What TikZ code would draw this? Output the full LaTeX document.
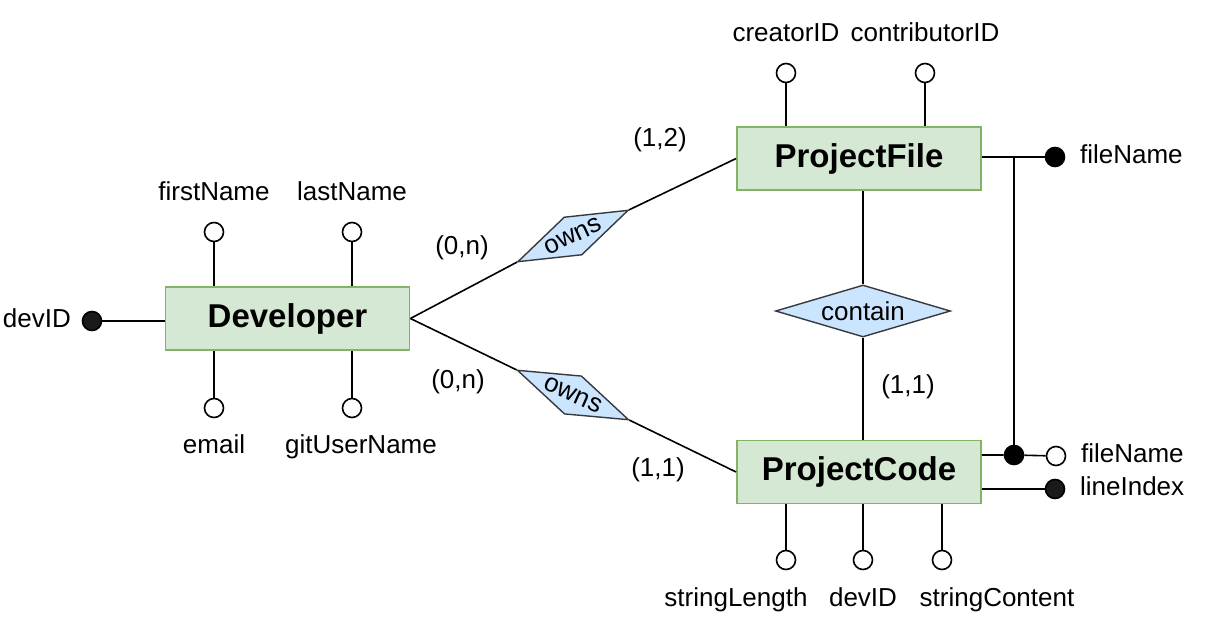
\documentclass[tikz,border=0pt]{standalone}
\usepackage{fontspec}
\setmainfont{Liberation Sans}
\usetikzlibrary{positioning,shapes.geometric}
\definecolor{entFill}{HTML}{D5E8D4}
\definecolor{entLine}{HTML}{82B366}
\definecolor{relFill}{HTML}{CCE5FF}
\definecolor{relLine}{HTML}{36393D}
\definecolor{keyInk}{HTML}{1A1A1A}

\begin{document}
\begin{tikzpicture}[x=1pt, y=1pt, line width=1.6pt,
      font=\fontsize{26}{31}\selectfont,
      ent/.style={draw=entLine, fill=entFill, line width=1.8pt, minimum width=244pt, minimum height=63pt,
                  font=\fontsize{33}{40}\selectfont\bfseries},
      rel/.style={diamond, draw=relLine, fill=relFill, line width=1.4pt, inner sep=0pt, aspect=2.9},
      attr/.style={circle, draw, fill=white, minimum size=19pt, inner sep=0pt},
      pkey/.style={attr, fill=keyInk},
      txt/.style={inner sep=0pt, text height=18pt, text depth=5pt}]
    \useasboundingbox (0,0) rectangle (1224,-637);
    % ---- entities and relations
    \node[ent] (dev) at (287.5,-318.5) {Developer};
    \node[ent] (pfile) at (859,-158.5) {ProjectFile};
    \node[ent] (pcode) at (859,-472) {ProjectCode};
    \node[rel, minimum width=122pt, minimum height=42pt, rotate=25] (ownsA) at (573,-236) {owns};
    \node[rel, minimum width=122pt, minimum height=42pt, rotate=-24] (ownsB) at (573,-395) {owns};
    \node[rel, minimum width=175pt, minimum height=52pt, aspect=3.4] (contain) at (863,-311) {contain};
    \draw (dev.east) -- (ownsA.west);
    \draw (ownsA.east) -- (pfile.west);
    \draw (dev.east) -- (ownsB.west);
    \draw (ownsB.east) -- (pcode.west);
    \draw (contain.north) -- (contain.north |- pfile.south);
    \draw (contain.south) -- (contain.south |- pcode.north);
    % ---- cardinalities
    \node (cardA) at (660,-140) {(1,2)};
    \node (cardB) at (462,-248) {(0,n)};
    \node (cardC) at (458,-382) {(0,n)};
    \node (cardD) at (658,-470) {(1,1)};
    \node (cardE) at (908,-387) {(1,1)};
    % ---- Developer attributes
    \foreach \n/\x/\t in {fn/214/firstName, ln/352/lastName} {
      \node[attr] (\n) at (\x,-232) {};
      \node[txt, above=15pt of \n] (\n-lbl) {\t};
      \draw (\n) -- (\n |- dev.north);
    }
    \foreach \n/\x/\dx/\t in {em/214/0/email, gu/352/9/gitUserName} {
      \node[attr] (\n) at (\x,-408) {};
      \node[txt, below=16pt of \n, xshift=\dx pt] (\n-lbl) {\t};
      \draw (\n) -- (\n |- dev.south);
    }
    \node[pkey] (did) at (92,-321) {};
    \node[txt, left=10pt of did] (did-lbl) {devID};
    \draw (did) -- (did -| dev.west);
    % ---- ProjectFile attributes
    \foreach \n/\x/\t in {cr/786/creatorID, co/925/contributorID} {
      \node[attr] (\n) at (\x,-73) {};
      \node[txt, above=15pt of \n] (\n-lbl) {\t};
      \draw (\n) -- (\n |- pfile.north);
    }
    \node[pkey, fill=black] (fnk) at (1055,-157) {};
    \node[txt, right=14pt of fnk] (fnk-lbl) {fileName};
    \draw (pfile.east |- fnk) -- (fnk);
    % ---- ProjectCode attributes
    \foreach \n/\x/\dx/\t in {sl/786/-50/stringLength, pd/863/0/devID, sc/942/55/stringContent} {
      \node[attr] (\n) at (\x,-560) {};
      \node[txt, below=17pt of \n, xshift=\dx pt] (\n-lbl) {\t};
      \draw (\n) -- (\n |- pcode.south);
    }
    \node[pkey, fill=black] (jdot) at (1014,-455) {};
    \node[attr] (fnf) at (1056,-456) {};
    \node[txt, right=14pt of fnf] (fnf-lbl) {fileName};
    \draw (pcode.east |- jdot) -- (jdot) -- (fnf);
    \draw (jdot) -- (jdot |- fnk);
    \node[pkey] (lix) at (1055,-489) {};
    \node[txt, right=14pt of lix] (lix-lbl) {lineIndex};
    \draw (pcode.east |- lix) -- (lix);
  \end{tikzpicture}
\end{document}
